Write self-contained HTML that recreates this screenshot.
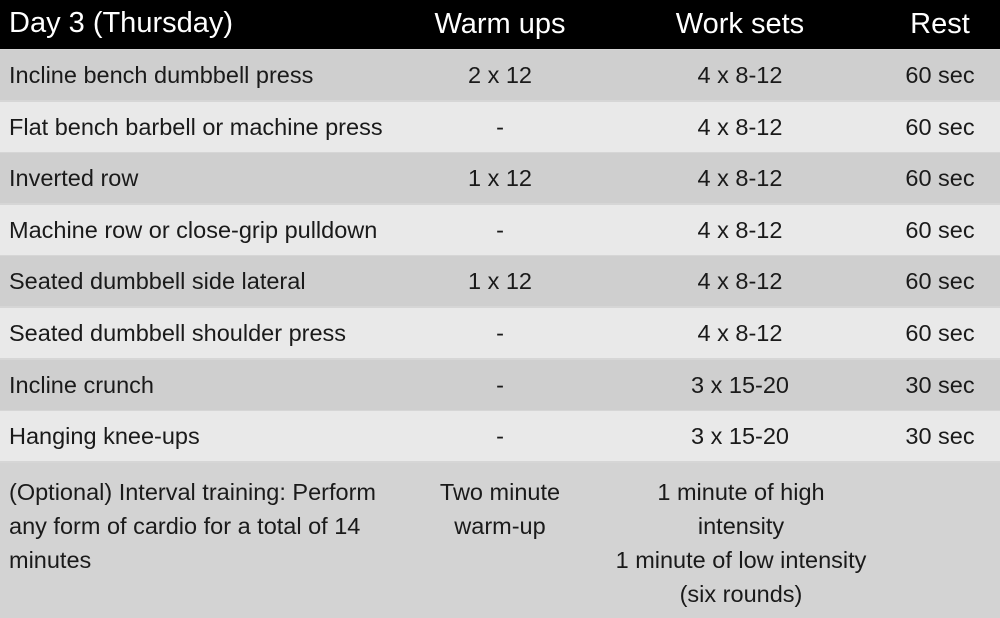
<!DOCTYPE html>
<html><head><meta charset="utf-8"><style>
body{margin:0;width:1000px;height:618px;overflow:hidden;background:#d6d6d6;font-family:"Liberation Sans Narrow","Liberation Sans",sans-serif;}
.r{position:absolute;left:0;width:1000px;}
.c{position:absolute;text-align:center;color:#1a1a1a;font-size:23.5px;}
.n{position:absolute;left:9px;color:#1a1a1a;font-size:23.5px;}
.h{color:#fff;font-size:29px;}
</style></head><body>
<div class="r" style="top:0;height:49px;background:#000">
<div class="n h" style="top:7px">Day 3 (Thursday)</div>
<div class="c h" style="top:8px;left:400px;width:200px">Warm ups</div>
<div class="c h" style="top:8px;left:640px;width:200px">Work sets</div>
<div class="c h" style="top:8px;left:880px;width:120px">Rest</div>
</div>
<div id="rows"></div>
<div class="r" style="top:463px;height:155px;background:#d3d3d3">
<div class="n" style="top:12px;line-height:34px">(Optional) Interval training: Perform<br>any form of cardio for a total of 14<br>minutes</div>
<div class="c" style="top:12px;left:400px;width:200px;line-height:34px">Two minute<br>warm-up</div>
<div class="c" style="top:12px;left:591px;width:300px;line-height:34px">1 minute of high<br>intensity<br>1 minute of low intensity<br>(six rounds)</div>
</div>
<script>
const names=["Incline bench dumbbell press","Flat bench barbell or machine press","Inverted row","Machine row or close-grip pulldown","Seated dumbbell side lateral","Seated dumbbell shoulder press","Incline crunch","Hanging knee-ups"];
const warm=["2 x 12","-","1 x 12","-","1 x 12","-","-","-"];
const sets=["4 x 8-12","4 x 8-12","4 x 8-12","4 x 8-12","4 x 8-12","4 x 8-12","3 x 15-20","3 x 15-20"];
const rest=["60 sec","60 sec","60 sec","60 sec","60 sec","60 sec","30 sec","30 sec"];
const host=document.getElementById('rows');
names.forEach((nm,i)=>{
const r=document.createElement('div');r.className='r';


r.style.top=(50+i*51.6)+'px';r.style.height='50px';r.style.background=i%2?'#e9e9e9':'#cfcfcf';
const mk=(cls,txt,st,name)=>{const d=document.createElement('div');d.className=cls;d.textContent=txt;d.style.cssText=st;


r.appendChild(d);};
mk('n',nm,'top:12px','exercise-name');
mk('c',warm[i],'top:12px;left:400px;width:200px','warmup-value');
mk('c',sets[i],'top:12px;left:640px;width:200px','worksets-value');
mk('c',rest[i],'top:12px;left:880px;width:120px','rest-value');
host.appendChild(r);});
</script>
</body></html>
